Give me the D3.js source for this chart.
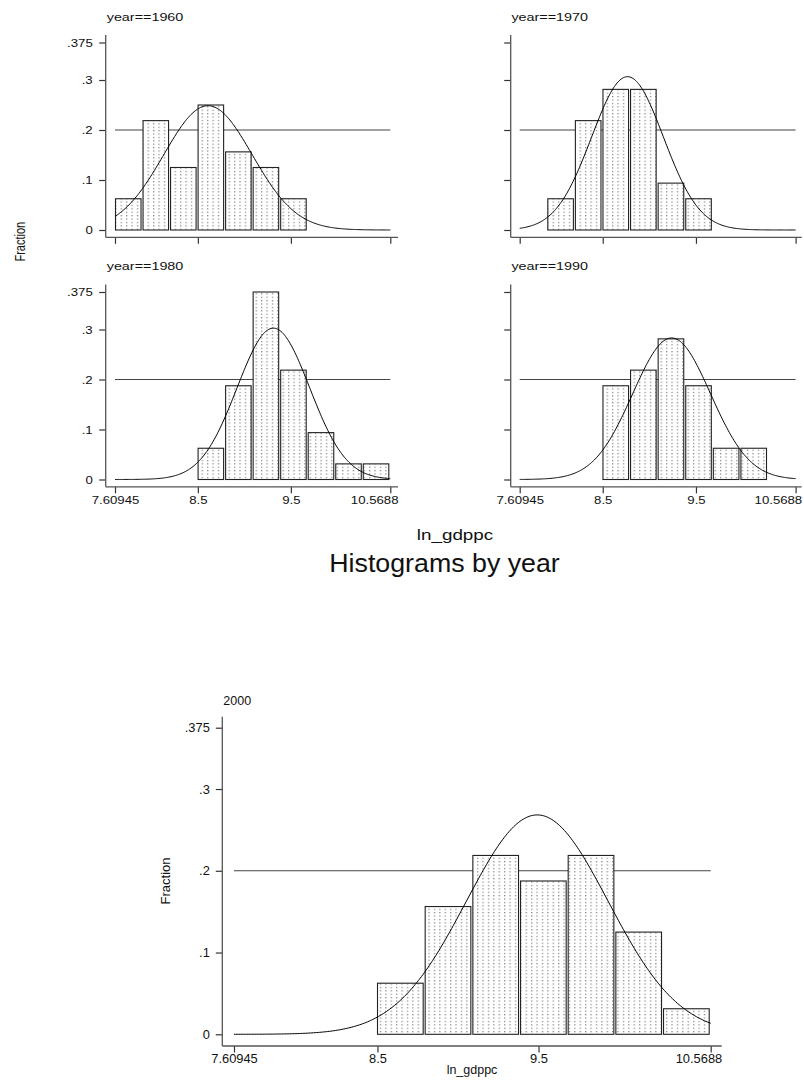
<!DOCTYPE html>
<html>
<head>
<meta charset="utf-8">
<script src="https://cdn.jsdelivr.net/npm/d3@7/dist/d3.min.js"></script>
<style>
  html, body { margin: 0; padding: 0; background: #fff; }
  svg { display: block; }
  text { font-family: Arial, "Liberation Sans", Helvetica, sans-serif; fill: #111; }
</style>
</head>
<body>
<svg id="chart" width="804" height="1081"></svg>
<script>
// ---------------- data ----------------
const years = [1960, 1970, 1980, 1990, 2000];
const xMin = 7.60945, xMax = 10.5688, nBins = 10;
// fraction of countries in each of the 10 bins
const frac1960 = [0.0625, 0.21875, 0.125, 0.25, 0.15625, 0.125, 0.0625, 0, 0, 0];
const frac1970 = [0, 0.0625, 0.21875, 0.28125, 0.28125, 0.09375, 0.0625, 0, 0, 0];
const frac1980 = [0, 0, 0, 0.0625, 0.1875, 0.375, 0.21875, 0.09375, 0.03125, 0.03125];
const frac1990 = [0, 0, 0, 0.1875, 0.21875, 0.28125, 0.1875, 0.0625, 0.0625, 0];
const frac2000 = [0, 0, 0, 0.0625, 0.15625, 0.21875, 0.1875, 0.21875, 0.125, 0.03125];
// normal overlay parameters (mean, sd)
const normMean = [8.609, 8.766, 9.312, 9.239, 9.492];
const normSD   = [0.475, 0.385, 0.390, 0.417, 0.440];
const xTickValues = [7.60945, 8.5, 9.5, 10.5688];
const xTickLabels = ["7.60945", "8.5", "9.5", "10.5688"];
const yTickValues = [0, 0.1, 0.2, 0.3, 0.375];
const yTickLabels = ["0", ".1", ".2", ".3", ".375"];
const refLineValue = 0.2;
const panelTitles = ["year==1960", "year==1970", "year==1980", "year==1990", "2000"];
const xTitle = "ln_gdppc", yTitle = "Fraction", mainTitle = "Histograms by year";

const fracs = [frac1960, frac1970, frac1980, frac1990, frac2000];
const binW = (xMax - xMin) / nBins;
const edges = d3.range(nBins + 1).map(i => xMin + i * binW);

const svg = d3.select("#chart");
svg.append("rect").attr("width", 804).attr("height", 1081).attr("fill", "#fff");

// dotted fill pattern
const defs = svg.append("defs");
const pat = defs.append("pattern").attr("id", "dots").attr("patternUnits", "userSpaceOnUse")
  .attr("width", 5.4).attr("height", 3.4);
pat.append("rect").attr("width", 5.4).attr("height", 3.4).attr("fill", "#fff");
pat.append("rect").attr("x", 2).attr("y", 1).attr("width", 1).attr("height", 1).attr("fill", "#444");

function stretchText(sel, x, y, sx, anchor, size, txt, rot) {
  const t = sel.append("text")
    .attr("transform", `translate(${x},${y})` + (rot ? ` rotate(${rot}) scale(1,${sx})` : ` scale(${sx},1)`))
    .attr("text-anchor", anchor).attr("font-size", size).text(txt);
  return t;
}

function drawPanel(k, c) {
  const g = svg.append("g");
  const x = d3.scaleLinear().domain([xMin, xMax]).range([c.x0, c.x1]);
  const y = d3.scaleLinear().domain([0, 0.375]).range([c.y0, c.y375]);

  // reference line
  g.append("line").attr("x1", x(xMin)).attr("x2", x(xMax))
    .attr("y1", y(refLineValue)).attr("y2", y(refLineValue))
    .attr("stroke", "#444").attr("stroke-width", 1.1);

  // bars
  const data = fracs[k].map((f, i) => ({ i, f })).filter(d => d.f > 0);
  g.selectAll("rect.bar").data(data).enter().append("rect")
    .attr("class", "bar")
    .attr("x", d => x(edges[d.i]) + 0.5)
    .attr("width", d => x(edges[d.i + 1]) - x(edges[d.i]) - 2)
    .attr("y", d => y(d.f))
    .attr("height", d => y(0) - y(d.f))
    .attr("fill", "url(#dots)").attr("stroke", "#222").attr("stroke-width", 1.1);

  // normal curve
  const m = normMean[k], s = normSD[k];
  const pts = d3.range(0, 301).map(j => {
    const xv = xMin + (xMax - xMin) * j / 300;
    const z = (xv - m) / s;
    return [xv, binW / (s * Math.sqrt(2 * Math.PI)) * Math.exp(-0.5 * z * z)];
  });
  g.append("path").datum(pts)
    .attr("d", d3.line().x(d => x(d[0])).y(d => y(d[1])))
    .attr("fill", "none").attr("stroke", "#000").attr("stroke-width", 1);

  // y axis
  const ya = g.append("g").attr("transform", `translate(${c.ax},0)`)
    .call(d3.axisLeft(y).tickValues(yTickValues)
      .tickFormat((d, i) => c.showY ? yTickLabels[i] : "")
      .tickSize(c.tick).tickPadding(c.ypad));
  ya.select(".domain").remove();
  ya.selectAll(".tick line").attr("stroke", "#333").attr("stroke-width", 1.2);
  ya.selectAll(".tick text").attr("font-size", c.fs).attr("font-family", null)
    .attr("fill", "#111")
    .attr("transform", `scale(${c.sx},1)`)
    .attr("x", -(c.tick + c.ypad) / c.sx);
  g.append("line").attr("x1", c.ax).attr("x2", c.ax).attr("y1", c.axTop).attr("y2", c.xAxisY)
    .attr("stroke", "#555").attr("stroke-width", 1.3);

  // x axis
  const xa = g.append("g").attr("transform", `translate(0,${c.xAxisY})`)
    .call(d3.axisBottom(x).tickValues(xTickValues)
      .tickFormat((d, i) => c.showX ? xTickLabels[i] : "")
      .tickSize(c.tick).tickPadding(c.xpad));
  xa.select(".domain").remove();
  xa.selectAll(".tick line").attr("stroke", "#333").attr("stroke-width", 1.2);
  xa.selectAll(".tick text").attr("font-size", c.fs).attr("font-family", null)
    .attr("fill", "#111")
    .attr("transform", `scale(${c.sx},1)`);
  xa.selectAll(".tick text").filter((d, i) => i === xTickValues.length - 1)
    .attr("text-anchor", "end")
    .attr("x", (c.axEnd - x(xTickValues[xTickValues.length - 1])) / c.sx);
  g.append("line").attr("x1", c.ax).attr("x2", c.axEnd).attr("y1", c.xAxisY).attr("y2", c.xAxisY)
    .attr("stroke", "#555").attr("stroke-width", 1.3);

  // panel title
  stretchText(g, c.titleX, c.titleY, c.tsx, "start", c.tfs, panelTitles[k]);
}

const topCfg = { x0: 115, x1: 390.3, ax: 105.7, axEnd: 398, y0: 230, y375: 42.5, axTop: 35, xAxisY: 237.3,
  tick: 6.5, ypad: 6.5, xpad: 3, fs: 11, sx: 1.2, tfs: 11.5, tsx: 1.25, titleX: 106.7, titleY: 20.7 };
const dx = 404.7, dy = 249.5;
const panels = [
  Object.assign({}, topCfg, { showY: true, showX: false }),
  Object.assign({}, topCfg, { x0: topCfg.x0 + dx, x1: topCfg.x1 + dx + 0.6, ax: topCfg.ax + dx + 0.3, axEnd: 801.7,
    titleX: topCfg.titleX + dx, showY: false, showX: false }),
  Object.assign({}, topCfg, { y0: topCfg.y0 + dy, y375: topCfg.y375 + dy, axTop: topCfg.axTop + dy, xAxisY: topCfg.xAxisY + dy,
    titleY: topCfg.titleY + dy, showY: true, showX: true }),
  Object.assign({}, topCfg, { x0: topCfg.x0 + dx, x1: topCfg.x1 + dx + 0.6, ax: topCfg.ax + dx + 0.3, axEnd: 801.7,
    titleX: topCfg.titleX + dx, y0: topCfg.y0 + dy, y375: topCfg.y375 + dy, axTop: topCfg.axTop + dy, xAxisY: topCfg.xAxisY + dy,
    titleY: topCfg.titleY + dy, showY: false, showX: true }),
  { x0: 234, x1: 710.7, ax: 222.3, axEnd: 721.7, y0: 1034.3, y375: 727.7, axTop: 716.7, xAxisY: 1046,
    tick: 6.5, ypad: 6, xpad: 2, fs: 12.5, sx: 1.03, tfs: 12.5, tsx: 1.0, titleX: 223.3, titleY: 705,
    showY: true, showX: true }
];
panels.forEach((c, k) => drawPanel(k, c));

// overall titles for the by-year graph
stretchText(svg, 19.5, 241.7, 1.3, "middle", 11, yTitle, -90).attr("dy", "0.35em");
stretchText(svg, 455, 540, 1.3, "middle", 14.5, xTitle);
stretchText(svg, 444.5, 571.5, 1.03, "middle", 26, mainTitle);
// titles for the 2000 graph
stretchText(svg, 165.5, 881, 1.0, "middle", 13, yTitle, -90).attr("dy", "0.35em");
stretchText(svg, 472, 1074, 1.0, "middle", 12.5, xTitle);
</script>
</body>
</html>
